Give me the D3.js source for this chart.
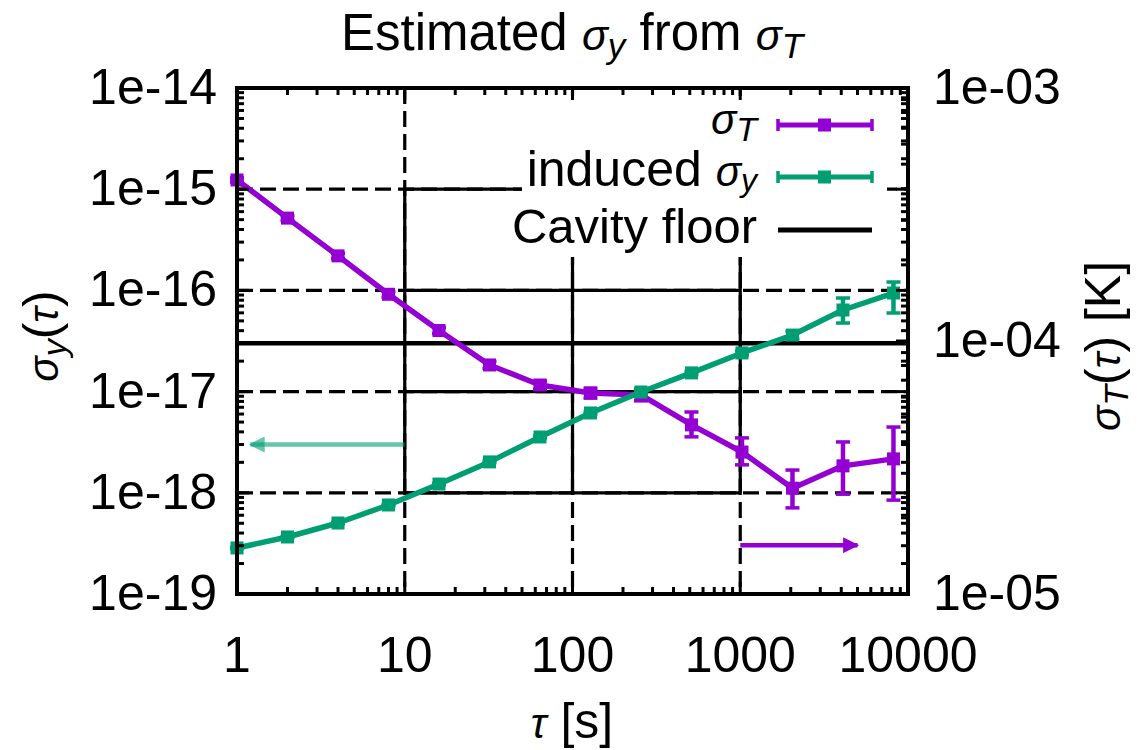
<!DOCTYPE html>
<html><head><meta charset="utf-8">
<script src="https://cdn.jsdelivr.net/npm/d3@7"></script>
<style>body{margin:0;background:#fff}svg{display:block}text{font-family:'Liberation Sans',Arial,sans-serif;fill:#000}</style>
</head><body>
<script>
// ---- data ----
const tau = [1,2,4,8,16,32,64,128,256,512,1024,2048,4096,8192];
const sigmaT   = [4.33e-4,3.06e-4,2.17e-4,1.53e-4,1.10e-4,8.04e-5,6.70e-5,6.23e-5,6.12e-5,4.66e-5,3.64e-5,2.62e-5,3.21e-5,3.42e-5];
const sigmaTLo = [4.25e-4,3.00e-4,2.12e-4,1.49e-4,1.07e-4,7.80e-5,6.45e-5,5.95e-5,5.80e-5,4.18e-5,3.24e-5,2.19e-5,2.48e-5,2.35e-5];
const sigmaTHi = [4.41e-4,3.12e-4,2.22e-4,1.57e-4,1.13e-4,8.30e-5,6.95e-5,6.50e-5,6.45e-5,5.24e-5,4.14e-5,3.09e-5,3.99e-5,4.57e-5];
const sigmaY   = [2.85e-19,3.66e-19,5.03e-19,7.58e-19,1.22e-18,2.02e-18,3.56e-18,6.15e-18,9.91e-18,1.53e-17,2.41e-17,3.62e-17,6.40e-17,9.42e-17];
const sigmaYLo = [2.80e-19,3.60e-19,4.95e-19,7.45e-19,1.20e-18,1.98e-18,3.48e-18,6.00e-18,9.65e-18,1.48e-17,2.30e-17,3.30e-17,4.76e-17,5.98e-17];
const sigmaYHi = [2.90e-19,3.72e-19,5.10e-19,7.70e-19,1.24e-18,2.06e-18,3.64e-18,6.30e-18,1.02e-17,1.58e-17,2.52e-17,3.95e-17,8.41e-17,1.21e-16];
const cavityFloor = 3e-17;
const xTicks = [1,10,100,1000,10000];
const xTickLabels = ["1","10","100","1000","10000"];
const yTicks = [1e-14,1e-15,1e-16,1e-17,1e-18,1e-19];
const yTickLabels = ["1e-14","1e-15","1e-16","1e-17","1e-18","1e-19"];
const y2Ticks = [1e-3,1e-4,1e-5];
const y2TickLabels = ["1e-03","1e-04","1e-05"];
const greenArrow = {x0:10, x1:1.2, y:3e-18};
const purpleArrow = {x0:1000, x1:5000, y:1.56e-5};

const W=1146,H=750;
const PURPLE="#9400d3", GREEN="#009e73";
const L=237,R=908,T=88,B=594;
const x = d3.scaleLog().domain([1,10000]).range([L,R]);
const y = d3.scaleLog().domain([1e-19,1e-14]).range([B,T]);
const y2 = d3.scaleLog().domain([1e-5,1e-3]).range([B,T]);

const svg = d3.select("body").append("svg").attr("width",W).attr("height",H);

// grid
const g = svg.append("g");
const gridX=[10,100,1000], gridY=[1e-15,1e-16,1e-17,1e-18];
gridX.forEach(v=>{
  g.append("line").attr("x1",x(v)).attr("x2",x(v)).attr("y1",T).attr("y2",B)
   .attr("stroke","#000").attr("stroke-width",3.2).attr("stroke-dasharray","16,7");
  g.append("line").attr("x1",x(v)).attr("x2",x(v)).attr("y1",y(1e-15)).attr("y2",y(1e-18))
   .attr("stroke","#000").attr("stroke-width",3.2);
});
gridY.forEach(v=>{
  g.append("line").attr("y1",y(v)).attr("y2",y(v)).attr("x1",L).attr("x2",R)
   .attr("stroke","#000").attr("stroke-width",3.2).attr("stroke-dasharray","16,7");
  g.append("line").attr("y1",y(v)).attr("y2",y(v)).attr("x1",x(10)).attr("x2",x(1000))
   .attr("stroke","#000").attr("stroke-width",3.2);
});

// legend box (opaque)
svg.append("rect").attr("x",522).attr("y",96).attr("width",365).attr("height",161).attr("fill","#fff");

// cavity floor
svg.append("line").attr("x1",L).attr("x2",R).attr("y1",y(cavityFloor)).attr("y2",y(cavityFloor))
  .attr("stroke","#000").attr("stroke-width",4.5);

// arrows
svg.append("defs").html(
 `<marker id="ahG" viewBox="0 0 10 10" refX="9" refY="5" markerUnits="userSpaceOnUse" markerWidth="22" markerHeight="16" orient="auto"><path d="M0,0 L10,5 L0,10 z" fill="${GREEN}" fill-opacity="0.6"/></marker>
  <marker id="ahP" viewBox="0 0 10 10" refX="9" refY="5" markerUnits="userSpaceOnUse" markerWidth="22" markerHeight="16" orient="auto"><path d="M0,0 L10,5 L0,10 z" fill="${PURPLE}"/></marker>`);
svg.append("line").attr("x1",x(greenArrow.x0)).attr("x2",x(greenArrow.x1)).attr("y1",y(greenArrow.y)).attr("y2",y(greenArrow.y))
  .attr("stroke",GREEN).attr("stroke-opacity",0.6).attr("stroke-width",4.5).attr("marker-end","url(#ahG)");
svg.append("line").attr("x1",x(purpleArrow.x0)).attr("x2",x(purpleArrow.x1)).attr("y1",y2(purpleArrow.y)).attr("y2",y2(purpleArrow.y))
  .attr("stroke",PURPLE).attr("stroke-width",4.5).attr("marker-end","url(#ahP)");

// series
function series(vals,lo,hi,ys,color){
  const gg=svg.append("g");
  const pts=tau.map((t,i)=>[x(t),ys(vals[i])]);
  gg.append("path").attr("d",d3.line()(pts)).attr("fill","none").attr("stroke",color).attr("stroke-width",5.5).attr("stroke-linejoin","round");
  tau.forEach((t,i)=>{
    const cx=x(t);
    gg.append("line").attr("x1",cx).attr("x2",cx).attr("y1",ys(lo[i])).attr("y2",ys(hi[i])).attr("stroke",color).attr("stroke-width",4.5);
    [lo[i],hi[i]].forEach(v=>gg.append("line").attr("x1",cx-7).attr("x2",cx+7).attr("y1",ys(v)).attr("y2",ys(v)).attr("stroke",color).attr("stroke-width",3.5));
    gg.append("rect").attr("x",cx-6.5).attr("y",ys(vals[i])-6.5).attr("width",13).attr("height",13).attr("fill",color);
  });
}
series(sigmaT,sigmaTLo,sigmaTHi,y2,PURPLE);
series(sigmaY,sigmaYLo,sigmaYHi,y,GREEN);

// legend
const leg=svg.append("g");
function legText(yb, parts, fs){
  const t=leg.append("text").attr("x",757).attr("y",yb).attr("text-anchor","end");
  parts.forEach(p=>{const s=t.append("tspan").text(p[0]).attr("font-size",p[1]);
    if(p[2])s.attr("font-style","italic"); if(p[3])s.attr("dy",p[3]);});
}
legText(134,[["σ",42,1],["T",34,1,7]]);
legText(186,[["induced ",50],["σ",42,1],["y",32,1,5]]);
legText(243,[["Cavity floor",49]]);
function legSample(yy,color,err){
  leg.append("line").attr("x1",778).attr("x2",872).attr("y1",yy).attr("y2",yy).attr("stroke",color).attr("stroke-width",5);
  if(err){
    [778,872].forEach(xx=>leg.append("line").attr("x1",xx).attr("x2",xx).attr("y1",yy-6).attr("y2",yy+6).attr("stroke",color).attr("stroke-width",3.5));
    leg.append("rect").attr("x",818).attr("y",yy-6.5).attr("width",13).attr("height",13).attr("fill",color);
  }
}
legSample(125,PURPLE,true);
legSample(177,GREEN,true);
legSample(230,"#000",false);

// ticks
const tk=svg.append("g").attr("stroke","#000");
const MAJ=12, MIN=7;
function minorDecades(lo,hi){const out=[];for(let e=lo;e<hi;e++)for(let k=2;k<=9;k++)out.push(k*Math.pow(10,e));return out;}
minorDecades(0,4).forEach(v=>{
  tk.append("line").attr("x1",x(v)).attr("x2",x(v)).attr("y1",B).attr("y2",B-MIN).attr("stroke-width",3);
  tk.append("line").attr("x1",x(v)).attr("x2",x(v)).attr("y1",T).attr("y2",T+MIN).attr("stroke-width",3);
});
xTicks.forEach(v=>{
  tk.append("line").attr("x1",x(v)).attr("x2",x(v)).attr("y1",B).attr("y2",B-MAJ).attr("stroke-width",3);
  tk.append("line").attr("x1",x(v)).attr("x2",x(v)).attr("y1",T).attr("y2",T+MAJ).attr("stroke-width",3);
});
minorDecades(-19,-14).forEach(v=>{
  tk.append("line").attr("x1",L).attr("x2",L+MIN).attr("y1",y(v)).attr("y2",y(v)).attr("stroke-width",3);
  tk.append("line").attr("x1",R).attr("x2",R-MIN).attr("y1",y(v)).attr("y2",y(v)).attr("stroke-width",3);
});
yTicks.forEach(v=>{
  tk.append("line").attr("x1",L).attr("x2",L+MAJ).attr("y1",y(v)).attr("y2",y(v)).attr("stroke-width",3);
  tk.append("line").attr("x1",R).attr("x2",R-MAJ).attr("y1",y(v)).attr("y2",y(v)).attr("stroke-width",3);
});
minorDecades(-5,-3).forEach(v=>{
  tk.append("line").attr("x1",R).attr("x2",R-MIN).attr("y1",y2(v)).attr("y2",y2(v)).attr("stroke-width",3);
});
y2Ticks.forEach(v=>{
  tk.append("line").attr("x1",R).attr("x2",R-MAJ).attr("y1",y2(v)).attr("y2",y2(v)).attr("stroke-width",3);
});

// border
svg.append("rect").attr("x",L).attr("y",T).attr("width",R-L).attr("height",B-T).attr("fill","none").attr("stroke","#000").attr("stroke-width",4);

// tick labels
const lab=svg.append("g").attr("font-size",50);
xTicks.forEach((v,i)=>lab.append("text").attr("x",x(v)).attr("y",672).attr("text-anchor","middle").text(xTickLabels[i]));
yTicks.forEach((v,i)=>lab.append("text").attr("x",217).attr("y",y(v)+16).attr("text-anchor","end").text(yTickLabels[i]));
y2Ticks.forEach((v,i)=>lab.append("text").attr("x",933).attr("y",y2(v)+16).attr("text-anchor","start").text(y2TickLabels[i]));

// title
const tt=svg.append("text").attr("x",572).attr("y",50).attr("text-anchor","middle").attr("font-size",51);
tt.append("tspan").text("Estimated ");
tt.append("tspan").text("σ").attr("font-style","italic").attr("font-size",43);
tt.append("tspan").text("y").attr("font-style","italic").attr("font-size",35).attr("dy",8);
tt.append("tspan").text(" from ").attr("dy",-8);
tt.append("tspan").text("σ").attr("font-style","italic").attr("font-size",43);
tt.append("tspan").text("T").attr("font-style","italic").attr("font-size",35).attr("dy",8);

// x label
const xl=svg.append("text").attr("x",572).attr("y",738).attr("text-anchor","middle").attr("font-size",50);
xl.append("tspan").text("τ").attr("font-style","italic").attr("font-size",42);
xl.append("tspan").text(" [s]");

// left y label
const yl=svg.append("text").attr("transform","translate(58,336) rotate(-90)").attr("text-anchor","middle").attr("font-size",50);
yl.append("tspan").text("σ").attr("font-style","italic").attr("font-size",42);
yl.append("tspan").text("y").attr("font-style","italic").attr("font-size",34).attr("dy",8);
yl.append("tspan").text("(").attr("dy",-8);
yl.append("tspan").text("τ").attr("font-style","italic").attr("font-size",42);
yl.append("tspan").text(")");

// right y label
const yr=svg.append("text").attr("transform","translate(1120,346) rotate(-90)").attr("text-anchor","middle").attr("font-size",50);
yr.append("tspan").text("σ").attr("font-style","italic").attr("font-size",42);
yr.append("tspan").text("T").attr("font-style","italic").attr("font-size",34).attr("dy",8);
yr.append("tspan").text("(").attr("dy",-8);
yr.append("tspan").text("τ").attr("font-style","italic").attr("font-size",42);
yr.append("tspan").text(") [K]");
</script>
</body></html>
